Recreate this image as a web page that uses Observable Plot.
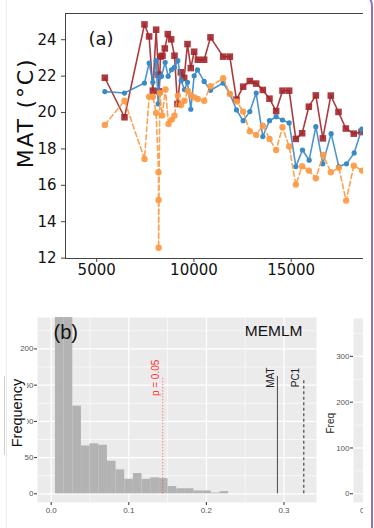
<!DOCTYPE html>
<html><head><meta charset="utf-8">
<script src="https://cdn.jsdelivr.net/npm/d3@7"></script>
<script src="https://cdn.jsdelivr.net/npm/@observablehq/plot@0.6"></script>
<style>
body{margin:0;background:#fff;}
#root{position:relative;width:374px;height:528px;overflow:hidden;background:#fff;}
svg{overflow:visible;}
</style></head><body><div id="root"></div>
<script>
// ---------- Panel (a) data ----------
const redAge = [5418,6429,7457,7697,7886,8057,8177,8211,8280,8383,8503,8657,8828,9000,9154,9325,9497,9668,9839,10011,10199,10525,10851,11502,11845,12188,12530,12873,13199,13542,13884,14227,14553,14896,15239,15564,15907,16267,16627,17038,17432,17809,18220,18615,19000];
const redMAT = [21.91,19.74,24.84,24.18,21.20,24.55,22.08,21.16,23.07,23.12,23.52,24.31,24.02,23.12,20.47,22.21,21.90,23.76,22.44,23.34,22.90,22.90,24.13,23.07,23.07,20.71,21.42,21.73,21.59,21.24,20.76,20.08,21.20,21.20,18.55,18.86,20.32,20.94,18.58,20.93,20.03,19.12,18.84,18.93,19.05];
const blueAge = [5418,6429,7457,7697,7886,8057,8160,8246,8331,8520,8674,8845,9000,9171,9343,9514,9668,9839,10011,10182,10525,10851,11502,11845,12188,12530,12873,13199,13542,13884,14227,14553,14896,15239,15582,15924,16267,16627,17055,17449,17843,18237,18631,19000];
const blueMAT = [21.15,21.07,21.62,22.72,21.66,22.85,20.47,21.95,21.99,22.76,21.99,22.35,22.48,22.85,21.75,21.26,21.66,20.18,22.02,22.34,21.71,21.22,21.62,21.04,20.14,19.55,20.05,21.07,18.68,19.55,19.77,19.59,19.43,17.03,17.94,17.38,19.22,17.18,18.84,17.03,17.18,17.78,19.09,19.4];
const orangeAge = [5418,6429,7457,7697,7886,8057,8177,8180,8185,8246,8366,8537,8691,8862,9000,9171,9343,9514,9685,9857,10028,10199,10525,10851,11502,11845,12205,12530,12873,13199,13542,13884,14227,14553,14896,15239,15564,15907,16267,16644,17038,17449,17826,18220,18648,19000];
const orangeMAT = [19.32,20.65,17.45,20.87,20.87,19.98,16.72,15.20,12.57,21.07,19.83,21.27,19.37,19.61,19.83,20.93,20.41,20.65,21.20,20.93,20.83,20.74,20.65,21.44,21.88,21.02,20.60,20.05,18.97,18.77,19.28,18.55,17.94,19.19,18.13,16.04,17.05,16.81,16.39,17.67,16.72,16.96,15.16,17.08,16.81,16.5];
const xTicksA = [5000,10000,15000];
const yTicksA = [12,14,16,18,20,22,24];

// ---------- Panel (b) data ----------
const binStart = 0.0055;
const binWidth = 0.01116;
const binCounts = [300,280,121,66,69,67,45,33,20,28,20,22,21,10,7,7,4,4,1,3];
const pValue = 0.1438;   // p = 0.05 threshold
const matValue = 0.2916;
const pc1Value = 0.3255;
const xTicksB = [0,0.1,0.2,0.3];
const yTicksB = [0,50,100,150,200];
const yTicksC = [0,100,200,300];

const root = document.getElementById("root");
function place(el, left, top, parent){ el.style.position="absolute"; el.style.left=left+"px"; el.style.top=top+"px"; (parent||root).appendChild(el); return el; }

const series = (ages, vals) => ages.map((a,i)=>({age:a, mat:vals[i]}));
const red = series(redAge, redMAT), blue = series(blueAge, blueMAT), orange = series(orangeAge, orangeMAT);
const cRed = "#a3262b", cBlue = "#3a8ac6", cOrange = "#fd9840";
const xDomA = [3396, 18718], yDomA = [11.98, 25.44];

const plotA = Plot.plot({
  width: 374, height: 285,
  marginLeft: 65, marginRight: 11, marginTop: 13, marginBottom: 27,
  x: {domain: xDomA}, y: {domain: yDomA},
  style: {fontFamily: "DejaVu Sans, sans-serif", fontSize: "15px", color: "#111", background: "transparent"},
  marks: [
    Plot.line(red, {x:"age", y:"mat", stroke:cRed, strokeWidth:1.6, strokeOpacity:0.9, clip:true}),
    Plot.dot(red, {x:"age", y:"mat", symbol:"square", r:3.7, fill:cRed, fillOpacity:0.9, clip:true}),
    Plot.line(blue, {x:"age", y:"mat", stroke:cBlue, strokeWidth:1.6, strokeOpacity:0.9, clip:true}),
    Plot.dot(blue, {x:"age", y:"mat", r:2.6, fill:cBlue, clip:true}),
    Plot.line(orange, {x:"age", y:"mat", stroke:cOrange, strokeWidth:1.6, strokeDasharray:"5,3", strokeOpacity:0.9, clip:true}),
    Plot.dot(orange, {x:"age", y:"mat", r:3.2, fill:cOrange, fillOpacity:0.9, clip:true}),
    Plot.ruleY([yDomA[0], yDomA[1]], {stroke:"#444", strokeWidth:1}),
    Plot.ruleX([xDomA[0]], {stroke:"#444", strokeWidth:1}),
    Plot.axisX({ticks:xTicksA, tickSize:4, tickPadding:2, tickFormat:"d", label:null, stroke:"#444"}),
    Plot.axisY({ticks:yTicksA, tickSize:4, tickPadding:5, label:null, stroke:"#444"}),
    Plot.text(["(a)"], {frameAnchor:"top-left", dx:23, dy:26, fontSize:18, textAnchor:"start", lineAnchor:"middle", fill:"#111"}),
    Plot.text(["MAT (°C)"], {frameAnchor:"left", dx:-40, dy:-23, rotate:-90, textAnchor:"middle", lineAnchor:"middle", fontSize:22, fill:"#111"})
  ]
});
plotA.querySelectorAll("text").forEach(t => { if (t.textContent === "MAT (°C)") t.setAttribute("letter-spacing", "1.8"); });
place(plotA, 0, 0);

// ---------- Panel (b) ----------
const bins = binCounts.map((n,i)=>({x1: binStart+i*binWidth, x2: binStart+(i+1)*binWidth, n}));
const xDomB = [-0.01765, 0.3419], yDomB = [-12, 243.4];
const ggFont = "Liberation Sans, Arial, sans-serif";
const plotB = Plot.plot({
  width: 330, height: 228,
  marginLeft: 37, marginRight: 14, marginTop: 17, marginBottom: 26,
  x: {domain: xDomB}, y: {domain: yDomB},
  style: {fontFamily: ggFont, fontSize: "8px", color: "#555", background: "transparent"},
  marks: [
    Plot.frame({fill:"#ebebeb", stroke:null}),
    Plot.gridX([0.05,0.15,0.25], {stroke:"#fff", strokeOpacity:1, strokeWidth:0.6}),
    Plot.gridY([25,75,125,175,225], {stroke:"#fff", strokeOpacity:1, strokeWidth:0.6}),
    Plot.gridX(xTicksB, {stroke:"#fff", strokeOpacity:1, strokeWidth:1.2}),
    Plot.gridY(yTicksB, {stroke:"#fff", strokeOpacity:1, strokeWidth:1.2}),
    Plot.rectY(bins, {x1:"x1", x2:"x2", y1:0, y2:"n", fill:"#b3b3b3", clip:true}),
    Plot.ruleX([pValue], {y1:0, y2:160, stroke:"#ff2a2a", strokeOpacity:0.8, strokeWidth:1, strokeDasharray:"1,2"}),
    Plot.ruleX([matValue], {y1:0, y2:162, stroke:"#555", strokeWidth:1.1}),
    Plot.ruleX([pc1Value], {y1:0, y2:158.5, stroke:"#555", strokeWidth:1.3, strokeDasharray:"3,2.5"}),
    Plot.text(["p = 0.05"], {x:[pValue], y:[160], text:d=>d, rotate:-90, dx:-7, fontSize:10, fill:"#ff3030"}),
    Plot.text(["MAT"], {x:[matValue], y:[160.5], text:d=>d, rotate:-90, dx:-7, fontSize:10, fill:"#222"}),
    Plot.text(["PC1"], {x:[pc1Value], y:[160.5], text:d=>d, rotate:-90, dx:-8, fontSize:10, fill:"#222"}),
    Plot.text(["(b)"], {frameAnchor:"top-left", dx:16, dy:15, fontSize:20, textAnchor:"start", lineAnchor:"middle", fill:"#111"}),
    Plot.text(["MEMLM"], {frameAnchor:"top-right", dx:-14, dy:14, fontSize:15.5, textAnchor:"end", lineAnchor:"middle", fill:"#111"}),
    Plot.axisX({ticks:xTicksB, tickSize:3, tickPadding:2, tickFormat:d3.format(".1f"), label:null, stroke:"#333", fill:"#555"}),
    Plot.axisY({ticks:yTicksB, tickSize:3, tickPadding:1, label:null, stroke:"#333", fill:"#555"})
  ]
});
place(plotB, 0, 300);

// ---------- partial panel (c), cropped at the right ----------
const cropC = document.createElement("div");
cropC.style.cssText = "width:43px;height:228px;overflow:hidden;";
place(cropC, 320, 300);
const plotC = Plot.plot({
  width: 54, height: 228,
  marginLeft: 33, marginRight: 0, marginTop: 18, marginBottom: 26,
  x: {domain: [-0.414, 0.586]}, y: {domain: [-19, 382.6]},
  style: {fontFamily: ggFont, fontSize: "8px", color: "#555", background: "transparent", maxWidth: "none"},
  marks: [
    Plot.frame({fill:"#ebebeb", stroke:null}),
    Plot.gridY([50,150,250,350], {stroke:"#fff", strokeOpacity:1, strokeWidth:0.6}),
    Plot.gridY(yTicksC, {stroke:"#fff", strokeOpacity:1, strokeWidth:1.2}),
    Plot.axisX({ticks:[0], tickSize:0, tickPadding:5, tickFormat:d=>"0", label:null, fill:"#555"}),
    Plot.axisY({ticks:yTicksC, tickSize:3, tickPadding:1, label:null, stroke:"#333", fill:"#555"}),
    Plot.text(["Freq"], {frameAnchor:"left", dx:-23, dy:23, rotate:-90, textAnchor:"start", lineAnchor:"middle", fontSize:10, fill:"#222"})
  ]
});
plotC.style.maxWidth = "none";
plotC.style.width = "54px";
plotC.style.height = "228px";
place(plotC, 0, 0, cropC);

// ---------- decorations ----------
const box = document.createElement("div");
box.style.cssText = "width:22px;height:79px;background:#fff;border-left:1px solid #d0d0d0;";
place(box, 4, 376);
const fq = document.createElement("div");
fq.textContent = "Frequency";
fq.style.cssText = "font-family:'Liberation Sans',Arial,sans-serif;font-size:14.5px;color:#111;white-space:nowrap;transform:translate(-50%,-50%) rotate(-90deg);";
place(fq, 17, 413);

const leftLine = document.createElement("div");
leftLine.style.cssText = "width:1px;height:528px;background:#ececec;";
place(leftLine, 6, 0);

const frameP = document.createElement("div");
frameP.style.cssText = "width:70px;height:560px;border-right:2px solid #8f6fcc;border-top:2px solid #8f6fcc;border-top-right-radius:14px;box-sizing:content-box;";
place(frameP, 301, -8);
</script></body></html>
